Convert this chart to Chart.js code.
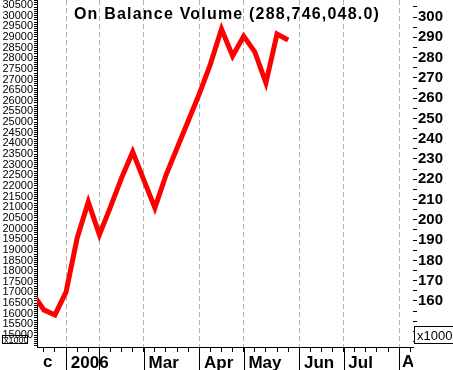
<!DOCTYPE html>
<html>
<head>
<meta charset="utf-8">
<script src="https://cdn.jsdelivr.net/npm/chart.js@4.4.0/dist/chart.umd.min.js"></script>
<style>
  html, body { margin: 0; padding: 0; background: #fff; }
  #wrap { width: 453px; height: 370px; position: relative; }
</style>
</head>
<body>
<div id="wrap"><canvas id="obvChart"></canvas></div>
<script>
// weekly On Balance Volume (millions), week 0 = mid Dec 2005
const weeks = [0, 1, 2, 3, 4, 5, 6, 7, 8, 9, 10, 11, 12, 13, 14, 15, 16, 17, 18, 19, 20, 21, 22, 23];
const obv = [163.5, 155.6, 153.1, 164.5, 191.1, 208.8, 192.6, 206.4, 220.7, 233.5, 219.7, 205.9,
             222.1, 235.4, 248.7, 262.1, 276.8, 294.1, 280.8, 290.6, 282.8, 267.5, 291.6, 288.7];

// month starts (in weeks); Feb label is hidden behind "2006"
const monthWeeks = [-1.3, 3, 6, 10, 15, 19, 24, 28, 33];
const monthLabels = ['Dec', '2006', '', 'Mar', 'Apr', 'May', 'Jun', 'Jul', 'Aug'];

const weekRange = [0.38, 34.25];
const leftRange = [14437, 30734];   // left scale, labelled every 500 from 15000
const rightRange = [137.3, 308.4];  // right scale (x1000000), labelled every 10 from 160

const titleText = 'On Balance Volume (288,746,048.0)';
const FONT = '"Liberation Sans", Arial, sans-serif';
const LABEL_WEEKS = 3; // roughly how wide a month label is, in weeks

function rangeTicks(min, max, step) {
  const out = [];
  for (let v = Math.ceil(min / step) * step; v <= max; v += step) out.push({ value: v });
  return out;
}

function noPad(scale) {
  scale.paddingTop = 0; scale.paddingBottom = 0;
  scale.paddingLeft = 0; scale.paddingRight = 0;
}

function labelFits(w) {
  return w >= weekRange[0] && w + LABEL_WEEKS <= weekRange[1];
}

// title, month separators under the axis, clipped edge labels, x1000 boxes
const extras = {
  id: 'extras',
  afterDraw(chart) {
    const ctx = chart.ctx;
    const area = chart.chartArea;
    const xs = chart.scales.x;
    const H = chart.height;
    ctx.save();

    // month separators in the label strip
    ctx.strokeStyle = '#000';
    ctx.lineWidth = 1;
    monthWeeks.forEach(w => {
      if (w < xs.min || w > xs.max) return;
      const px = Math.round(xs.getPixelForValue(w)) + 0.5;
      ctx.beginPath();
      ctx.moveTo(px, area.bottom);
      ctx.lineTo(px, H);
      ctx.stroke();
    });

    // month labels cut by the plot edges
    ctx.save();
    ctx.beginPath();
    ctx.rect(area.left + 6, area.bottom, area.right - area.left - 6, H - area.bottom);
    ctx.clip();
    ctx.font = 'bold 17px ' + FONT;
    ctx.fillStyle = '#000';
    ctx.textBaseline = 'alphabetic';
    ctx.textAlign = 'left';
    monthWeeks.forEach((w, i) => {
      if (labelFits(w) || !monthLabels[i]) return;
      ctx.fillText(monthLabels[i], xs.getPixelForValue(w) + 3, 367);
    });
    ctx.restore();

    // title
    ctx.font = 'bold 16px ' + FONT;
    ctx.fillStyle = '#000';
    ctx.textAlign = 'center';
    ctx.textBaseline = 'alphabetic';
    if ('letterSpacing' in ctx) ctx.letterSpacing = '1.2px';
    ctx.fillText(titleText, 227, 19);
    if ('letterSpacing' in ctx) ctx.letterSpacing = '0px';

    // multiplier boxes
    ctx.textAlign = 'left';
    ctx.fillStyle = '#fff';
    ctx.fillRect(414, 326, 39, 17);
    ctx.strokeRect(414.5, 326.5, 45, 17);
    ctx.fillStyle = '#000';
    ctx.font = '13px ' + FONT;
    ctx.fillText('x1000000', 417, 340);

    ctx.strokeRect(2.5, 335.5, 25, 8);
    ctx.font = '9px ' + FONT;
    ctx.fillText('x1000', 4, 343);
    ctx.restore();
  }
};

const ctx = document.getElementById('obvChart').getContext('2d');
const obvChart = new Chart(ctx, {
  type: 'line',
  data: {
    datasets: [{
      label: 'OBV',
      data: weeks.map((w, i) => ({ x: w, y: obv[i] })),
      borderColor: '#ff0000',
      borderWidth: 5,
      pointRadius: 0,
      tension: 0,
      fill: false,
      yAxisID: 'y2'
    }]
  },
  options: {
    responsive: true,
    maintainAspectRatio: false,
    animation: false,
    layout: { padding: 0 },
    plugins: {
      legend: { display: false },
      tooltip: { enabled: false },
      title: { display: false }
    },
    scales: {
      x: {
        type: 'linear',
        min: weekRange[0],
        max: weekRange[1],
        afterBuildTicks: s => { s.ticks = rangeTicks(s.min, s.max, 1); },
        afterFit: s => { s.height = 23; noPad(s); },
        border: { display: true, color: '#000', width: 1, dash: [5, 3] },
        grid: {
          color: c => monthWeeks.includes(c.tick && c.tick.value) ? '#b4b4b4' : 'rgba(0,0,0,0)',
          tickColor: '#000',
          tickBorderDash: [],
          tickLength: 5,
          drawTicks: true
        },
        ticks: {
          autoSkip: false,
          maxRotation: 0,
          align: 'start',
          padding: 1,
          color: '#000',
          font: { family: FONT, size: 17, weight: 'bold' },
          callback: v => {
            const i = monthWeeks.indexOf(v);
            return i >= 0 && monthLabels[i] && labelFits(v) ? ' ' + monthLabels[i] : '';
          }
        }
      },
      y: {
        type: 'linear',
        position: 'left',
        min: leftRange[0],
        max: leftRange[1],
        afterBuildTicks: s => { s.ticks = rangeTicks(s.min, s.max, 100); },
        afterFit: s => { s.width = 37; noPad(s); },
        border: { display: true, color: '#000', width: 1 },
        grid: { drawOnChartArea: false, drawTicks: true, tickLength: 3, tickColor: '#000' },
        ticks: {
          autoSkip: false,
          padding: 1,
          color: '#000',
          font: { family: FONT, size: 11 },
          callback: v => (v % 500 === 0 && v >= 15000 ? String(v) : '')
        }
      },
      y2: {
        type: 'linear',
        position: 'right',
        min: rightRange[0],
        max: rightRange[1],
        afterBuildTicks: s => { s.ticks = rangeTicks(s.min, s.max, 5); },
        afterFit: s => { s.width = 40; noPad(s); },
        border: { display: false },
        grid: { drawOnChartArea: false, drawTicks: true, tickLength: 4, tickColor: '#000' },
        ticks: {
          autoSkip: false,
          padding: 1,
          color: '#000',
          font: { family: FONT, size: 15, weight: 'bold' },
          callback: v => (v % 10 === 0 && v >= 160 ? String(v) : '')
        }
      }
    }
  },
  plugins: [extras]
});
</script>
</body>
</html>
